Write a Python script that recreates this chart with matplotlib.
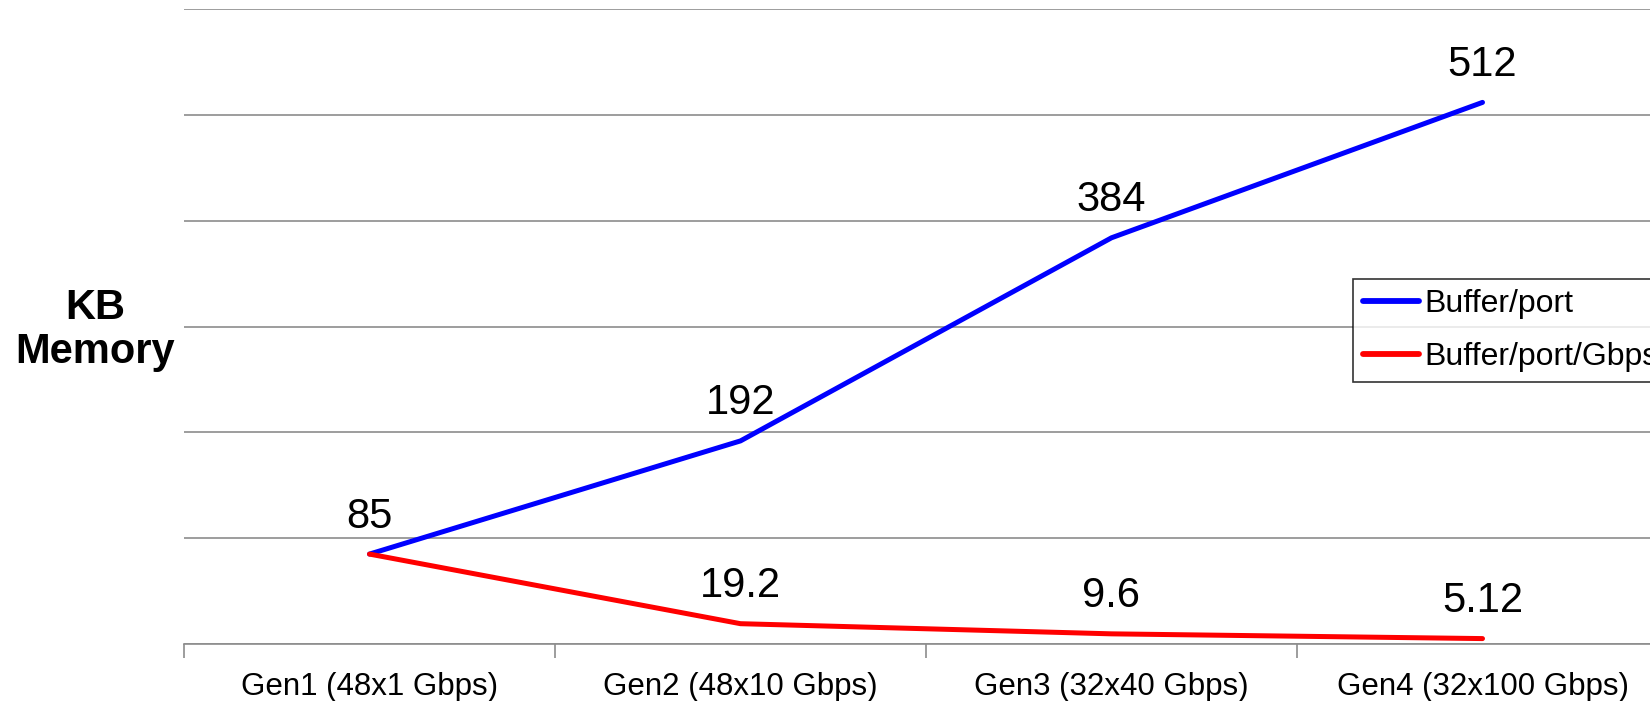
import matplotlib
matplotlib.use("Agg")
import matplotlib.pyplot as plt
from matplotlib.ticker import FixedLocator, NullFormatter

categories = ["Gen1 (48x1 Gbps)", "Gen2 (48x10 Gbps)", "Gen3 (32x40 Gbps)", "Gen4 (32x100 Gbps)"]
buffer_port = [85, 192, 384, 512]
buffer_port_gbps = [85, 19.2, 9.6, 5.12]
label_port = ["85", "192", "384", "512"]
label_gbps = ["", "19.2", "9.6", "5.12"]
series_names = ["Buffer/port", "Buffer/port/Gbps"]
y_ticks = [0, 100, 200, 300, 400, 500, 600]

plt.rcParams['font.family'] = ['Liberation Sans', 'DejaVu Sans']

W, H = 1650, 701
fig = plt.figure(figsize=(W / 100, H / 100), dpi=100)
left, right, top, bottom = 184, 1668, 9.3, 644
ax = fig.add_axes([left / W, 1 - bottom / H, (right - left) / W, (bottom - top) / H])

x = list(range(len(categories)))
ax.plot(x, buffer_port, color="#0000FF", lw=3.6, solid_capstyle='round', label=series_names[0], zorder=3)
ax.plot(x, buffer_port_gbps, color="#FF0000", lw=3.6, solid_capstyle='round', label=series_names[1], zorder=3)

for xi, v, t in zip(x, buffer_port, label_port):
    if t:
        ax.annotate(t, (xi, v), xytext=(0, 27), textcoords='offset points', ha='center', va='center', fontsize=30)
for xi, v, t in zip(x, buffer_port_gbps, label_gbps):
    if t:
        ax.annotate(t, (xi, v), xytext=(0, 27), textcoords='offset points', ha='center', va='center', fontsize=30)

ax.set_xlim(-0.5, len(categories) - 0.5)
ax.set_ylim(0, 600)
ax.set_yticks(y_ticks)
ax.yaxis.grid(True, color="#8c8c8c", lw=1.2)
ax.tick_params(axis='y', length=0, labelleft=False)
ax.set_axisbelow(True)

ax.set_xticks(x)
ax.set_xticklabels(categories, fontsize=22.5)
ax.tick_params(axis='x', which='major', length=0, pad=20)
ax.xaxis.set_minor_locator(FixedLocator([i - 0.5 for i in range(len(categories) + 1)]))
ax.xaxis.set_minor_formatter(NullFormatter())
ax.tick_params(axis='x', which='minor', length=10, width=1.2, color="#8c8c8c", direction='out')

for s in ['top', 'left', 'right']:
    ax.spines[s].set_visible(False)
ax.spines['bottom'].set_color("#8c8c8c")
ax.spines['bottom'].set_linewidth(1.2)

fig.text(95 / W, 1 - 330 / H, "KB\nMemory", ha='center', va='center', fontsize=30, fontweight='bold', linespacing=1.15)

leg = ax.legend(loc='upper left', bbox_to_anchor=(1353 / W, 1 - 279 / H), bbox_transform=fig.transFigure,
                borderaxespad=0, fontsize=23, frameon=True, fancybox=False, edgecolor='black',
                handlelength=1.75, handletextpad=0.15, labelspacing=0.72, borderpad=0.32)
leg.get_frame().set_linewidth(1.2)
for l in leg.get_lines():
    l.set_linewidth(4.2)

fig.savefig("out.png", dpi=100)
